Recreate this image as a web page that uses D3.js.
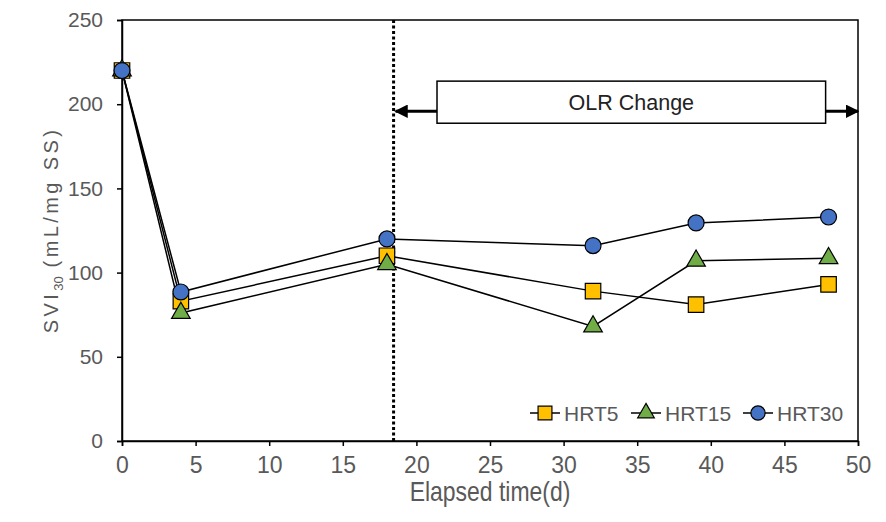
<!DOCTYPE html>
<html>
<head>
<meta charset="utf-8">
<script src="https://cdn.jsdelivr.net/npm/d3@7/dist/d3.min.js"></script>
<style>
  html, body { margin: 0; padding: 0; background: #fff; }
  svg { display: block; }
</style>
</head>
<body>
<svg id="chart" width="886" height="522"></svg>
<script>
// ---- data ----
const days = [0, 4, 18, 32, 39, 48];
const hrt5 = [220, 83, 110, 89, 81, 93];
const hrt15 = [220, 76, 105, 68, 107, 108.5];
const hrt30 = [220, 88.5, 120, 116, 129.5, 133];
const seriesNames = ["HRT5", "HRT15", "HRT30"];
const xTicks = [0, 5, 10, 15, 20, 25, 30, 35, 40, 45, 50];
const yTicks = [0, 50, 100, 150, 200, 250];
const changeDay = 18.45;
const annotationText = "OLR Change";

// ---- layout ----
const W = 886, H = 522;
const m = { left: 122, right: 28, top: 20, bottom: 81 };
const svg = d3.select("#chart");
const x = d3.scaleLinear().domain([0, 50]).range([m.left, W - m.right]);
const y = d3.scaleLinear().domain([0, 250]).range([H - m.bottom, m.top]);

const grey = "#595959";
const colors = { HRT5: "#FFC000", HRT15: "#70AD47", HRT30: "#4472C4" };
const shapes = { HRT5: d3.symbolSquare, HRT15: d3.symbolTriangle, HRT30: d3.symbolCircle };
const sizes = { HRT5: 240, HRT15: 150, HRT30: 200 };
const sans = "'Liberation Sans', Arial, sans-serif";

// frame
svg.append("rect")
  .attr("x", x(0)).attr("y", y(250))
  .attr("width", x(50) - x(0)).attr("height", y(0) - y(250))
  .attr("fill", "none").attr("stroke", "#000").attr("stroke-width", 1.5);

// axes
const yAxis = svg.append("g").attr("transform", `translate(${x(0)},0)`)
  .call(d3.axisLeft(y).tickValues(yTicks).tickSize(5).tickPadding(14));
yAxis.select(".domain").attr("stroke", "#000").attr("stroke-width", 1.5);
yAxis.selectAll(".tick line").attr("stroke", "#000").attr("stroke-width", 1.5);
yAxis.selectAll(".tick text")
  .attr("fill", grey).style("font-family", sans)
  .style("font-size", "21px");

const xAxis = svg.append("g").attr("transform", `translate(0,${y(0)})`)
  .call(d3.axisBottom(x).tickValues(xTicks).tickSize(5).tickPadding(0));
xAxis.select(".domain").attr("stroke", "#000").attr("stroke-width", 1.5);
xAxis.selectAll(".tick line").attr("stroke", "#000").attr("stroke-width", 1.5);
xAxis.selectAll(".tick text")
  .attr("fill", grey).style("font-family", sans)
  .style("font-size", "23px")
  .attr("dy", null).attr("y", 32);

// axis titles
svg.append("text")
  .attr("transform", `translate(${(x(0) + x(50)) / 2 + 0},501) scale(0.82,1)`)
  .attr("text-anchor", "middle").attr("fill", grey)
  .style("font-family", sans)
  .style("font-size", "28px")
  .text("Elapsed time(d)");

const yt = svg.append("text")
  .attr("transform", `translate(58,230) rotate(-90)`)
  .attr("text-anchor", "middle").attr("fill", grey)
  .style("font-family", sans)
  .style("font-size", "20px")
  .style("letter-spacing", "3.4px");
yt.append("tspan").text("SVI");
yt.append("tspan").attr("dy", 5).style("font-size", "13px").style("letter-spacing", "0px").text("30");
yt.append("tspan").attr("dy", -5).text(" (mL/mg SS)");

// dotted vertical line
svg.append("line")
  .attr("x1", x(changeDay)).attr("x2", x(changeDay))
  .attr("y1", y(250)).attr("y2", y(0))
  .attr("stroke", "#000").attr("stroke-width", 3).attr("stroke-dasharray", "3 2.5");

// annotation box + arrows
const boxX0 = 21.4, boxX1 = 47.8, boxY0 = 213.7, boxY1 = 188.7, arrowY = 195.8;
const defs = svg.append("defs");
defs.append("marker").attr("id", "ah").attr("viewBox", "0 0 10 10")
  .attr("refX", 9).attr("refY", 5).attr("markerWidth", 4.5).attr("markerHeight", 4.5)
  .attr("orient", "auto-start-reverse")
  .append("path").attr("d", "M0,0 L10,5 L0,10 z").attr("fill", "#000");

svg.append("line")
  .attr("x1", x(boxX0)).attr("x2", x(changeDay) + 2)
  .attr("y1", y(arrowY)).attr("y2", y(arrowY))
  .attr("stroke", "#000").attr("stroke-width", 3).attr("marker-end", "url(#ah)");
svg.append("line")
  .attr("x1", x(boxX1)).attr("x2", x(50))
  .attr("y1", y(arrowY)).attr("y2", y(arrowY))
  .attr("stroke", "#000").attr("stroke-width", 3).attr("marker-end", "url(#ah)");
svg.append("rect")
  .attr("x", x(boxX0)).attr("y", y(boxY0))
  .attr("width", x(boxX1) - x(boxX0)).attr("height", y(boxY1) - y(boxY0))
  .attr("fill", "#fff").attr("stroke", "#000").attr("stroke-width", 1.5);
svg.append("text")
  .attr("x", (x(boxX0) + x(boxX1)) / 2).attr("y", (y(boxY0) + y(boxY1)) / 2 + 7.5)
  .attr("text-anchor", "middle").attr("fill", "#222")
  .style("font-family", sans)
  .style("font-size", "21.5px")
  .text(annotationText);

// series
const seriesData = { HRT5: hrt5, HRT15: hrt15, HRT30: hrt30 };
const line = d3.line().x(d => x(d[0])).y(d => y(d[1]));
seriesNames.forEach(name => {
  const pts = days.map((d, i) => [d, seriesData[name][i]]);
  svg.append("path").datum(pts).attr("d", line)
    .attr("fill", "none").attr("stroke", "#000").attr("stroke-width", 1.5);
});
seriesNames.forEach(name => {
  const pts = days.map((d, i) => [d, seriesData[name][i]]);
  svg.append("g").selectAll("path").data(pts).join("path")
    .attr("transform", d => `translate(${x(d[0])},${y(d[1])})`)
    .attr("d", d3.symbol().type(shapes[name]).size(sizes[name]))
    .attr("fill", colors[name]).attr("stroke", "#000").attr("stroke-width", 1.2);
});

// legend
const legendY = 413;
const legendItems = [
  { name: "HRT5", x0: 530 },
  { name: "HRT15", x0: 631 },
  { name: "HRT30", x0: 743 }
];
legendItems.forEach(it => {
  const g = svg.append("g");
  g.append("line").attr("x1", it.x0).attr("x2", it.x0 + 30)
    .attr("y1", legendY).attr("y2", legendY).attr("stroke", "#000").attr("stroke-width", 1.5);
  g.append("path").attr("transform", `translate(${it.x0 + 15},${legendY})`)
    .attr("d", d3.symbol().type(shapes[it.name]).size(sizes[it.name] * 0.8))
    .attr("fill", colors[it.name]).attr("stroke", "#000").attr("stroke-width", 1.2);
  g.append("text").attr("x", it.x0 + 34).attr("y", legendY + 7.5)
    .attr("fill", grey).style("font-family", sans)
    .style("font-size", "21px").text(it.name);
});
</script>
</body>
</html>
